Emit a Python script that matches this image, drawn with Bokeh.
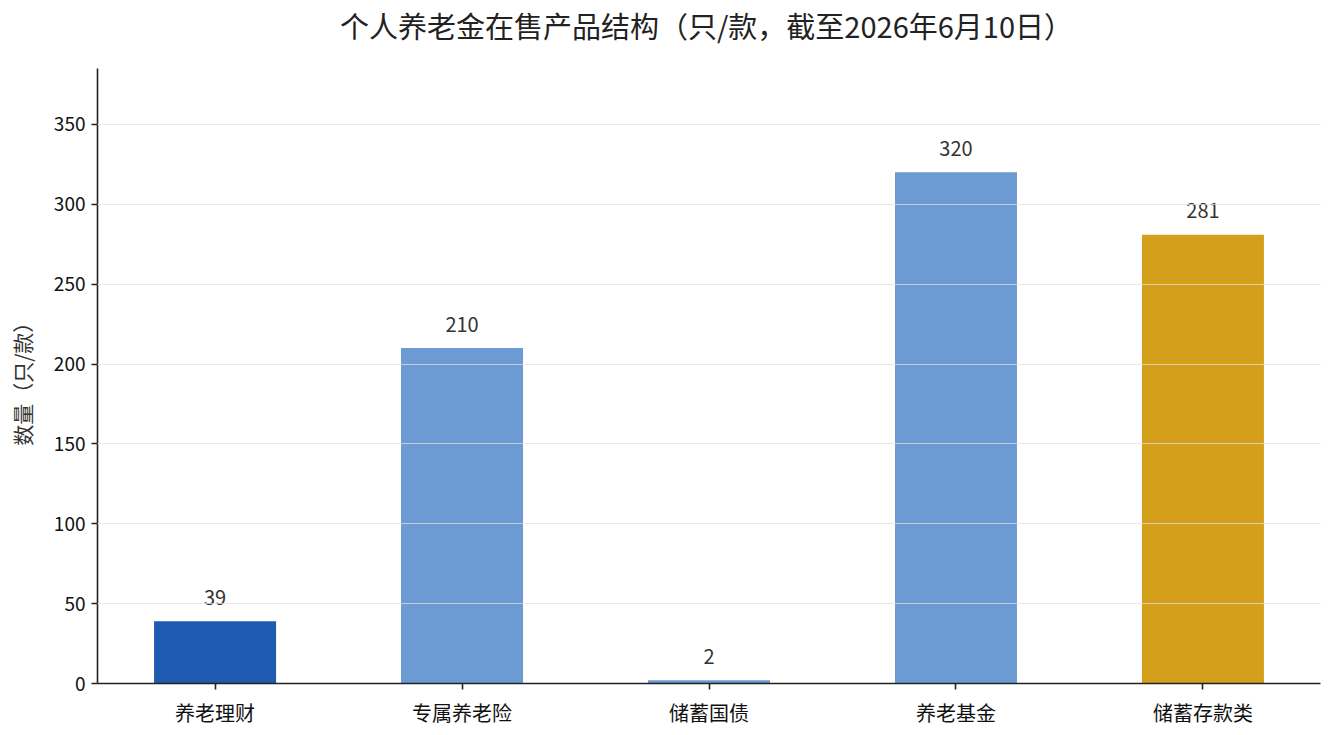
from bokeh.plotting import figure
from bokeh.models import ColumnDataSource, Range1d, FixedTicker
from bokeh.core.properties import value
from bokeh.embed import file_html
from bokeh.resources import INLINE

title_text = "个人养老金在售产品结构（只/款，截至2026年6月10日）"
y_label = "数量（只/款）"
categories = ["养老理财", "专属养老险", "储蓄国债", "养老基金", "储蓄存款类"]
counts = [39, 210, 2, 320, 281]
colors = ["#1f5bb0", "#6b9bd2", "#6b9bd2", "#6b9bd2", "#d4a01b"]
y_ticks = [0, 50, 100, 150, 200, 250, 300, 350]
y_max = 385

FONT = "Noto Sans CJK SC"
W, H = 1335, 735
LEFT, RIGHT, BOTTOM = 97, 15, 52
PLOT_TOP = 68            # where the value axis ends (px from top)
TITLE_CY = 24            # title centre (px from top)
TITLE_CX = 706           # title centre (px from left)
frame_h = H - BOTTOM
frame_w = W - LEFT - RIGHT
pad = 0.476
x_lo, x_hi = -pad, len(categories) - 1 + pad
data_per_px = y_max / (frame_h - PLOT_TOP)
y_end = frame_h * data_per_px
title_x = x_lo + (TITLE_CX - LEFT) * (x_hi - x_lo) / frame_w
title_y = (frame_h - TITLE_CY) * data_per_px

xs = list(range(len(categories)))
src = ColumnDataSource(dict(x=xs, top=counts, color=colors,
                            label=[str(c) for c in counts]))

p = figure(width=W, height=H, output_backend="svg", toolbar_location=None,
           x_range=Range1d(x_lo, x_hi), y_range=Range1d(0, y_end),
           min_border_left=LEFT, min_border_right=RIGHT, min_border_top=0,
           min_border_bottom=BOTTOM)
p.outline_line_color = None
p.background_fill_color = "white"
p.border_fill_color = "white"

p.xgrid.grid_line_color = None
p.ygrid.ticker = FixedTicker(ticks=y_ticks)
p.ygrid.grid_line_color = "#e0e0e0"
p.ygrid.grid_line_alpha = 0.75
p.ygrid.grid_line_width = 1
p.ygrid.level = "guide"

p.vbar(x="x", top="top", width=0.494, bottom=0, color="color", line_color=None, source=src)
p.text(x="x", y="top", text="label", source=src, text_align="center",
       text_baseline="middle", y_offset=-24, text_font=value(FONT),
       text_font_size="20px", text_color="#333333")
p.text(x=[title_x], y=[title_y], text=[title_text], text_align="center",
       text_baseline="middle", text_font=value(FONT), text_font_size="29px",
       text_color="#222222")

p.yaxis.ticker = FixedTicker(ticks=y_ticks)
p.yaxis.bounds = (0, y_max)
p.xaxis.ticker = FixedTicker(ticks=xs)
p.xaxis.major_label_overrides = {i: c for i, c in enumerate(categories)}
# ideographic spaces shift the label down to centre it on the value axis
p.yaxis.axis_label = y_label + "\u3000" * 4

for ax in (p.xaxis, p.yaxis):
    ax.axis_line_color = "#222222"
    ax.axis_line_width = 1.6
    ax.major_tick_line_color = "#222222"
    ax.major_tick_line_width = 1.6
    ax.major_tick_out = 6
    ax.major_tick_in = 0
    ax.minor_tick_line_color = None
    ax.major_label_text_font = FONT
    ax.major_label_text_font_size = "19px"
    ax.major_label_text_color = "#111111"
    ax.axis_label_text_font = FONT
    ax.axis_label_text_font_size = "21px"
    ax.axis_label_text_font_style = "normal"
    ax.axis_label_text_color = "#333333"
p.xaxis.major_label_text_font_size = "20px"
p.xaxis.major_label_standoff = 8
p.yaxis.major_label_standoff = 6
p.yaxis.axis_label_standoff = 14

open("out.html", "w").write(file_html(p, INLINE))
